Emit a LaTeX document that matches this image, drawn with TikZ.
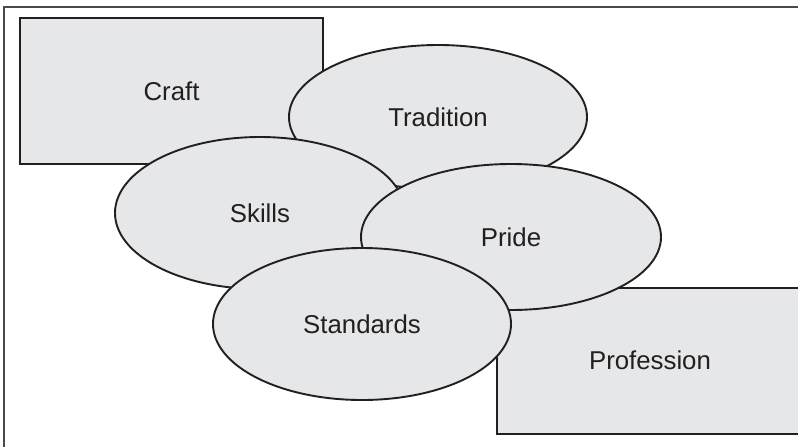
\documentclass[tikz,border=0pt]{standalone}
\usepackage{fontspec}
\setmainfont{Liberation Sans}
\usetikzlibrary{shapes.geometric}
\definecolor{fillgrey}{HTML}{E6E7E8}
\definecolor{ink}{HTML}{231F20}
\definecolor{frame}{HTML}{4A4A4A}
\tikzset{
  shapebase/.style={draw=ink, fill=fillgrey, line width=1.9pt, inner sep=0pt, text=ink,
    font=\fontsize{25.8}{30}\selectfont},
  oval/.style={shapebase, ellipse, minimum width=#1},
  box/.style={shapebase, rectangle},
  lbl/.style={text=ink, font=\fontsize{25.8}{30}\selectfont, inner sep=0pt}
}
\begin{document}
\begin{tikzpicture}[x=1pt,y=-1pt]
\useasboundingbox (0,0) rectangle (798,447);
\clip (0,0) rectangle (798,447);
\fill[white] (0,0) rectangle (798,447);
\draw[frame, line width=1.5pt] (4,460) -- (4,7) -- (810,7);
% Craft
\node[box, minimum width=303pt, minimum height=146pt] (craft) at (171.5,91) {Craft};
% Tradition
\node[oval=298pt, minimum height=144pt] (tradition) at (438,117) {Tradition};
% Skills
\node[oval=290pt, minimum height=152pt] (skills) at (260,213) {Skills};
% Profession box (extends past right edge)
\node[box, minimum width=330pt, minimum height=146pt, anchor=north west] (profbox) at (496,287) {};
\node[lbl] (profession) at (650,360) {Profession};
% Pride
\node[oval=300pt, minimum height=146pt] (pride) at (511,237) {Pride};
% Standards
\node[oval=298pt, minimum height=152pt] (standards) at (362,324) {Standards};
\end{tikzpicture}
\end{document}
